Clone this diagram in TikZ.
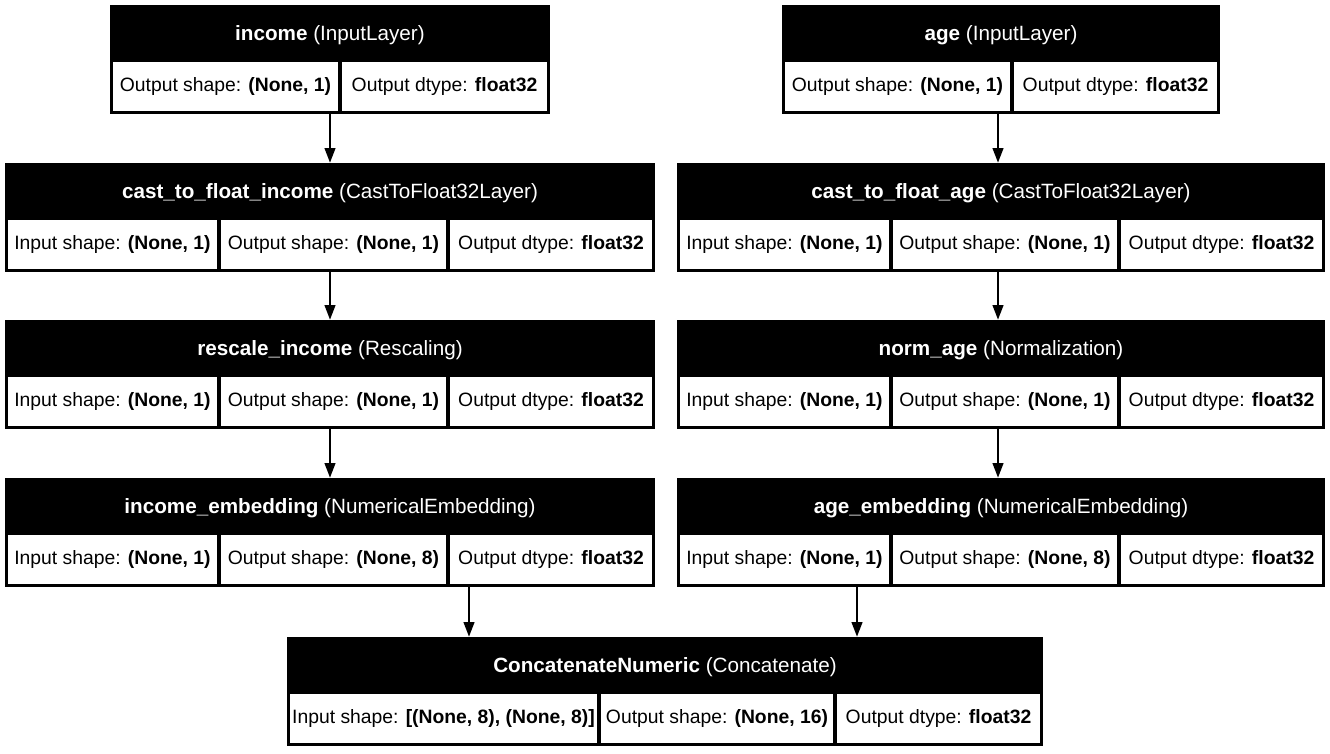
\documentclass[tikz,border=0pt]{standalone}
\usepackage{fontspec}
\setmainfont{Liberation Sans}
\usetikzlibrary{fit,arrows.meta}
\newcommand\lbox[5]{%
 \node[inner sep=0pt, fill=black, fit={(#2,#4)(#3,#4+109)}] (#1) {};
 \node[text=white, font=\fontsize{15.5pt}{18pt}\selectfont] (#1t) at ({(#2+#3)/2},#4+30) {\textbf{#5}};}
\newcommand\lcell[5]{%
 \node[inner sep=0pt, fill=white, fit={(#2,#4+57)(#3,#4+106)}] (#1) {};
 \node[font=\fontsize{14.5pt}{17pt}\selectfont] at (#1.center) {#5};}
\begin{document}
\begin{tikzpicture}[x=0.75pt,y=-0.75pt, arr/.style={-{Triangle[length=11pt,width=8pt]}, line width=1.6pt}]
\useasboundingbox[fill=white] (0,0) rectangle (1330,753);
% left column
\lbox{inc}{110}{550}{5}{income \textmd{(InputLayer)}}
\lcell{inc1}{113}{338}{5}{Output shape: \textbf{(None, 1)}}
\lcell{inc2}{342}{547}{5}{Output dtype: \textbf{float32}}
\lbox{cfi}{5}{655}{163}{cast\_to\_float\_income \textmd{(CastToFloat32Layer)}}
\lcell{cfi1}{8}{217}{163}{Input shape: \textbf{(None, 1)}}
\lcell{cfi2}{221}{446}{163}{Output shape: \textbf{(None, 1)}}
\lcell{cfi3}{450}{652}{163}{Output dtype: \textbf{float32}}
\lbox{rsi}{5}{655}{320}{rescale\_income \textmd{(Rescaling)}}
\lcell{rsi1}{8}{217}{320}{Input shape: \textbf{(None, 1)}}
\lcell{rsi2}{221}{446}{320}{Output shape: \textbf{(None, 1)}}
\lcell{rsi3}{450}{652}{320}{Output dtype: \textbf{float32}}
\lbox{iem}{5}{655}{478}{income\_embedding \textmd{(NumericalEmbedding)}}
\lcell{iem1}{8}{217}{478}{Input shape: \textbf{(None, 1)}}
\lcell{iem2}{221}{446}{478}{Output shape: \textbf{(None, 8)}}
\lcell{iem3}{450}{652}{478}{Output dtype: \textbf{float32}}
% right column
\lbox{age}{782}{1220}{5}{age \textmd{(InputLayer)}}
\lcell{age1}{785}{1010}{5}{Output shape: \textbf{(None, 1)}}
\lcell{age2}{1014}{1217}{5}{Output dtype: \textbf{float32}}
\lbox{cfa}{677}{1325}{163}{cast\_to\_float\_age \textmd{(CastToFloat32Layer)}}
\lcell{cfa1}{680}{889}{163}{Input shape: \textbf{(None, 1)}}
\lcell{cfa2}{893}{1117}{163}{Output shape: \textbf{(None, 1)}}
\lcell{cfa3}{1121}{1322}{163}{Output dtype: \textbf{float32}}
\lbox{nag}{677}{1325}{320}{norm\_age \textmd{(Normalization)}}
\lcell{nag1}{680}{889}{320}{Input shape: \textbf{(None, 1)}}
\lcell{nag2}{893}{1117}{320}{Output shape: \textbf{(None, 1)}}
\lcell{nag3}{1121}{1322}{320}{Output dtype: \textbf{float32}}
\lbox{aem}{677}{1325}{478}{age\_embedding \textmd{(NumericalEmbedding)}}
\lcell{aem1}{680}{889}{478}{Input shape: \textbf{(None, 1)}}
\lcell{aem2}{893}{1117}{478}{Output shape: \textbf{(None, 8)}}
\lcell{aem3}{1121}{1322}{478}{Output dtype: \textbf{float32}}
% concat
\lbox{cat}{287}{1043}{637}{ConcatenateNumeric \textmd{(Concatenate)}}
\lcell{cat1}{290}{597}{637}{Input shape: \textbf{[(None, 8), (None, 8)]}}
\lcell{cat2}{601}{833}{637}{Output shape: \textbf{(None, 16)}}
\lcell{cat3}{837}{1040}{637}{Output dtype: \textbf{float32}}
% arrows
\draw[arr] (inc.south -| 330,0) -- (cfi.north -| 330,0);
\draw[arr] (cfi.south -| 330,0) -- (rsi.north -| 330,0);
\draw[arr] (rsi.south -| 330,0) -- (iem.north -| 330,0);
\draw[arr] (age.south -| 998,0) -- (cfa.north -| 998,0);
\draw[arr] (cfa.south -| 998,0) -- (nag.north -| 998,0);
\draw[arr] (nag.south -| 998,0) -- (aem.north -| 998,0);
\draw[arr] (iem.south -| 469,0) -- (cat.north -| 469,0);
\draw[arr] (aem.south -| 857,0) -- (cat.north -| 857,0);
\end{tikzpicture}
\end{document}
